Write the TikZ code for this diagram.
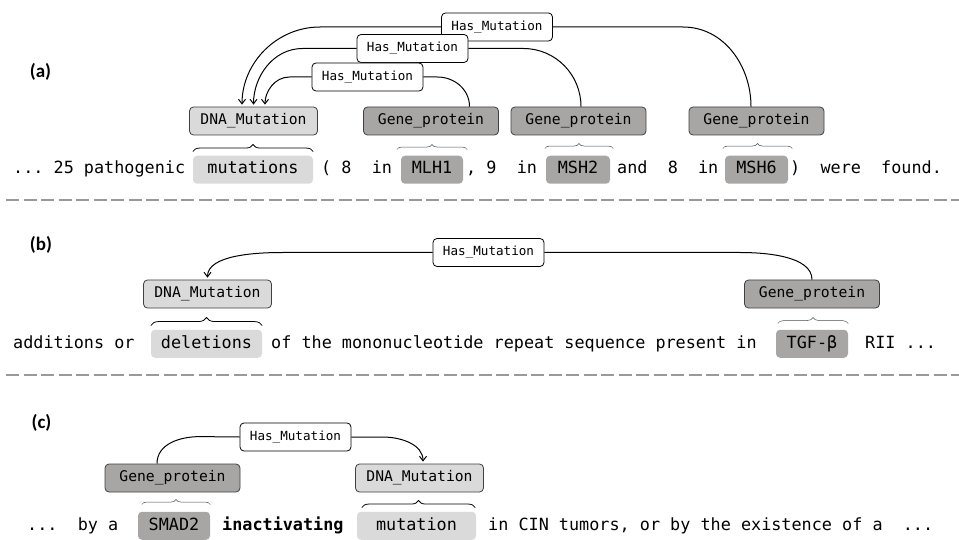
\documentclass[tikz,border=0pt]{standalone}
\usepackage{fontspec}
\setmonofont{DejaVu Sans Mono}
\newfontfamily\panelfont{Carlito}
\usetikzlibrary{arrows.meta,decorations.pathreplacing}
\definecolor{dnafill}{HTML}{DADADA}
\definecolor{genefill}{HTML}{A8A5A5}
\definecolor{dashgray}{HTML}{999999}

\begin{document}
\begin{tikzpicture}[x=1pt,y=-1pt,
rel/.style={draw=black, fill=white, rounded corners=4pt, line width=0.8pt, minimum width=111pt, minimum height=28pt, inner sep=0pt, font=\ttfamily\fontsize{12.6}{14}\selectfont},
ent/.style={draw=black!75, rounded corners=4pt, line width=0.8pt, minimum height=28pt, inner sep=0pt, font=\ttfamily\fontsize{14.7}{17}\selectfont},
dnabox/.style={ent, fill=dnafill, minimum width=128pt},
genebox/.style={ent, fill=genefill, minimum width=135pt},
word/.style={anchor=base west, inner sep=0pt, font=\ttfamily\fontsize{16.8}{20}\selectfont},
hl/.style={anchor=base, rounded corners=4pt, inner xsep=0pt, inner ysep=6.25pt, text height=12pt, text depth=3.5pt, font=\ttfamily\fontsize{16.8}{20}\selectfont},
hldna/.style={hl, fill=dnafill},
hlgene/.style={hl, fill=genefill},
link/.style={line width=1pt},
arr/.style={link, -{Straight Barb[length=4.5pt,width=7pt]}, shorten >=2pt},
brc/.style={decorate, decoration={brace, amplitude=#1}, line width=0.8pt},
gbrc/.style={brc=#1, line width=0.5pt, draw=black!70},
sep/.style={draw=dashgray, line width=1.2pt, dash pattern=on 13pt off 4.5pt},
panel/.style={font=\panelfont\bfseries\fontsize{19}{22}\selectfont}]
\useasboundingbox (0,0) rectangle (959,540);

% (a)
\node[panel] (pa) at (40.5,72) {(a)};
\node[rel] (r1) at (497,27) {Has\_Mutation};
\node[rel] (r2) at (412.5,48.5) {Has\_Mutation};
\node[rel] (r3) at (367.5,77) {Has\_Mutation};
\node[dnabox] (adna) at (253.5,121) {DNA\_Mutation};
\node[genebox] (agene1) at (431,121) {Gene\_protein};
\node[genebox] (agene2) at (578.5,121) {Gene\_protein};
\node[genebox] (agene3) at (756.5,121) {Gene\_protein};
\draw[arr] (r1.west) -- ++(-121,0) to[out=180,in=90] ([xshift=-11.5pt]adna.north);
\draw[arr] (r2.west) -- ++(-54,0) to[out=180,in=90] (adna.north);
\draw[arr] (r3.west) -- ++(-22,0) to[out=180,in=90] ([xshift=11.5pt]adna.north);
\draw[link] (r1.east) -- ++(130,0) to[out=0,in=90] ([xshift=-5.5pt]agene3.north);
\draw[link] (r2.east) -- ++(55,0) to[out=0,in=90] ([xshift=2.5pt]agene2.north);
\draw[link] (r3.east) -- ++(14,0) to[out=0,in=90] ([xshift=38.5pt]agene1.north);
\node[word] (a0) at (13,174) {... 25 pathogenic};
\node[hldna, minimum width=120pt] (amut) at (253,174) {mutations};
\node[word] (a1) at (321,174) {( 8~~in};
\node[hlgene, minimum width=62pt] (amlh) at (432,174) {MLH1};
\node[word] (a2) at (466,174) {, 9~~in};
\node[hlgene, minimum width=64pt] (amsh2) at (578,174) {MSH2};
\node[word] (a3) at (617,174) {and~~8~~in};
\node[hlgene, minimum width=63pt] (amsh6) at (756.5,174) {MSH6};
\node[word] (a4) at (790,174) {)~~were~~found.};
\draw[brc=7pt] ([yshift=4pt]amut.north west) -- ([yshift=4pt]amut.north east);
\draw[gbrc=5pt] ([xshift=-4pt,yshift=6pt]amlh.north west) -- ([xshift=4pt,yshift=6pt]amlh.north east);
\draw[gbrc=5pt] ([xshift=-1pt,yshift=7pt]amsh2.north west) -- ([xshift=3pt,yshift=7pt]amsh2.north east);
\draw[gbrc=5pt] ([xshift=-2pt,yshift=7pt]amsh6.north west) -- ([xshift=4pt,yshift=7pt]amsh6.north east);
\draw[sep] (6,200) -- (959,200);

% (b)
\node[panel] (pb) at (41,245) {(b)};
\node[rel] (rb) at (488.5,252.5) {Has\_Mutation};
\node[dnabox] (bdna) at (207.5,294) {DNA\_Mutation};
\node[genebox] (bgene) at (812,294) {Gene\_protein};
\draw[arr] (rb.west) -- ++(-150,0) to[out=180,in=90,looseness=0.8] (bdna.north);
\draw[link] (rb.east) -- ++(196,0) to[out=0,in=90,looseness=0.8] (bgene.north);
\node[word] (b0) at (13,348) {additions or};
\node[hldna, minimum width=111pt] (bdel) at (206.5,348) {deletions};
\node[word] (b1) at (271,348) {of the mononucleotide repeat sequence present in};
\node[hlgene, minimum width=72pt] (btgf) at (812,348) {TGF-β};
\node[word] (b2) at (865,348) {RII ...};
\draw[brc=8pt] ([yshift=4pt]bdel.north west) -- ([yshift=4pt]bdel.north east);
\draw[gbrc=6pt] ([xshift=2pt,yshift=6pt]btgf.north west) -- ([yshift=6pt]btgf.north east);
\draw[sep] (6,375) -- (959,375);

% (c)
\node[panel] (pc) at (41.5,423) {(c)};
\node[rel] (rc) at (295.5,437) {Has\_Mutation};
\node[genebox] (cgene) at (172.5,478) {Gene\_protein};
\node[dnabox] (cdna) at (419.5,478) {DNA\_Mutation};
\draw[link] ([xshift=-15.5pt]cgene.north) to[out=90,in=180] ++(43,-27) -- (rc.west);
\draw[arr] (rc.east) -- ++(31,0) to[out=0,in=90] ([xshift=3.5pt]cdna.north);
\node[word] (c0) at (27,530) {...~~by a};
\node[hlgene, minimum width=72pt] (csmad) at (174,530) {SMAD2};
\node[word, font=\ttfamily\bfseries\fontsize{16.8}{20}\selectfont] (c1) at (222,530) {inactivating};
\node[hldna, minimum width=119pt] (cmut) at (416.5,530) {mutation};
\node[word] (c2) at (488,530) {in CIN tumors, or by the existence of a~~...};
\draw[gbrc=5pt] ([xshift=4pt,yshift=7pt]csmad.north west) -- ([yshift=7pt]csmad.north east);
\draw[brc=7pt] ([xshift=5pt,yshift=4pt]cmut.north west) -- ([xshift=-1pt,yshift=4pt]cmut.north east);
\end{tikzpicture}
\end{document}
